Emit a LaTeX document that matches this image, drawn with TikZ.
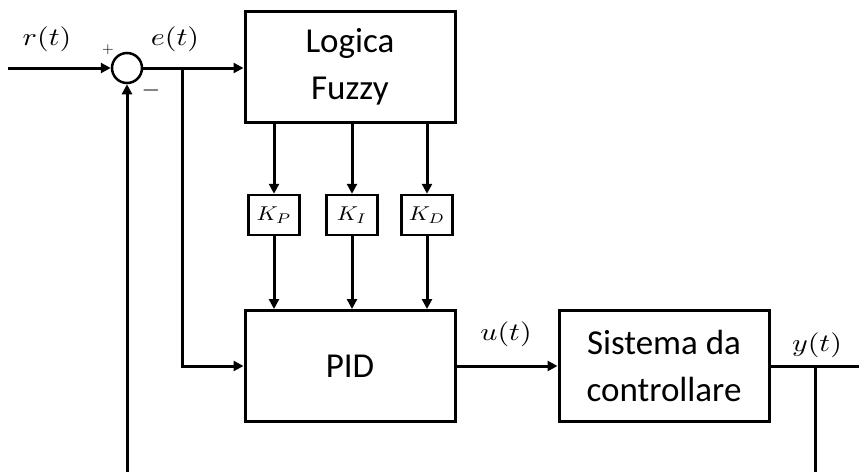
\documentclass[tikz,border=0pt]{standalone}
\usepackage{fontspec}
\setmainfont{Carlito}
\usetikzlibrary{arrows.meta,calc}
% math set at 10pt and enlarged, so that it scales cleanly
\newcommand{\sigmath}[3]{\scalebox{#1}[#2]{$#3$}}

\begin{document}
\begin{tikzpicture}[x=1pt,y=-1pt,
  line width=3pt,
  arr/.style={-{Triangle[length=10pt,width=10pt]}},
  block/.style={draw, line width=3pt, minimum width=210pt, minimum height=111pt,
    align=center, font=\fontsize{35}{47}\selectfont, inner sep=0pt},
  gain/.style={draw, line width=2.5pt, minimum width=51pt, minimum height=40pt,
    inner sep=0pt, font=\fontsize{10}{12}\selectfont},
  sig/.style={font=\fontsize{10}{12}\selectfont, inner sep=0pt},
  sumnode/.style={draw, circle, line width=2.5pt, minimum size=30pt, inner sep=0pt}]

\useasboundingbox (0,0) rectangle (859,471);

% blocks
\node[block] (fuzzy) at (350,67) {Logica\\Fuzzy};
\node[block] (pid)   at (350,366) {PID};
\node[block] (sys)   at (664,366) {Sistema da\\controllare};
\node[sumnode] (sum) at (127,68) {};

% gains
\node[gain] (kp) at (274,215) {\sigmath{2.3}{2}{K_P}};
\node[gain] (ki) at (352,215) {\sigmath{2.3}{2}{K_I}};
\node[gain] (kd) at (427,215) {\sigmath{2.3}{2}{K_D}};

% signal labels
\node[sig] (r) at (47,39)  {\sigmath{3}{2.5}{r(t)}};
\node[sig] (e) at (175,39) {\sigmath{3}{2.5}{e(t)}};
\node[sig] (u) at (506,334) {\sigmath{3}{2.5}{u(t)}};
\node[sig] (y) at (817,345) {\sigmath{3}{2.5}{y(t)}};
\node[sig] (plus)  at (108,50) {\sigmath{1.5}{1.5}{+}};
\node[sig] (minus) at (151,90) {\sigmath{2.4}{2.4}{-}};

% auxiliary points
\coordinate (in)  at (8,68);
\coordinate (br)  at (182,68);
\coordinate (out) at (859,366);
\coordinate (tap) at (815,366);
\coordinate (fb)  at (815,473);

% connectors
\draw[arr] (in) -- (sum.west);
\draw[arr] (sum.east) -- (sum.east -| fuzzy.west);
\draw[arr] (br) |- (pid.west);

\foreach \k in {kp,ki,kd}{
  \draw[arr] (fuzzy.south -| \k) -- (\k.north);
  \draw[arr] (\k.south) -- (\k |- pid.north);
}

\draw[arr] (pid.east) -- (sys.west);
\draw (sys.east) -- (out);
\draw[arr] (tap) -- (fb) -| (sum.south);

\end{tikzpicture}
\end{document}
